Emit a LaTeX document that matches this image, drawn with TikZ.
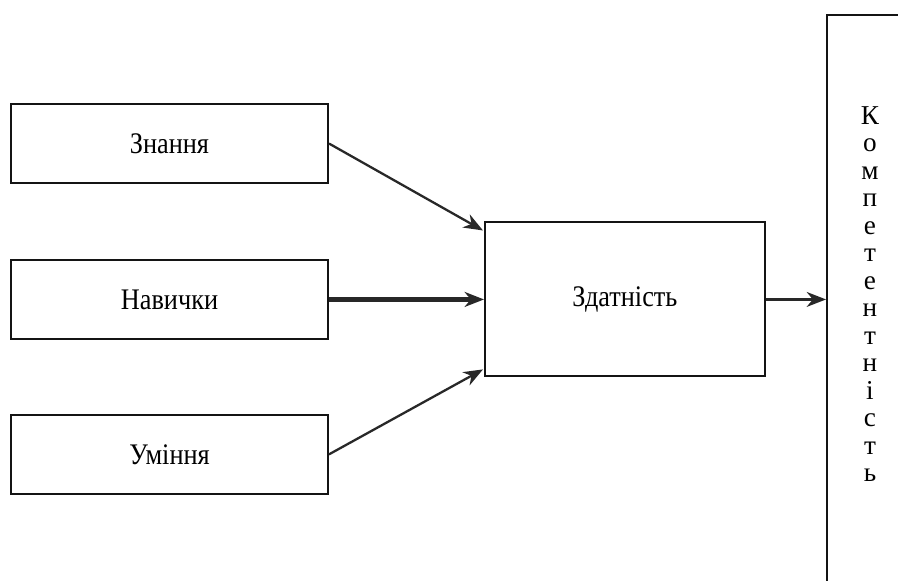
\documentclass[tikz,border=0pt]{standalone}
\usepackage{fontspec}
\setmainfont{Liberation Serif}[FakeStretch=0.88]
\newfontfamily\vertfont{Liberation Serif}
\usepackage{tikz}
\usetikzlibrary{positioning, arrows.meta, calc}
\definecolor{figK}{RGB}{20,20,20}
\definecolor{figA}{RGB}{40,40,40}
\tikzset{blok/.style={draw=figK, line width=1.1pt, minimum width=6.34cm, minimum height=1.58cm,
  inner sep=0pt, font=\fontsize{17}{20}\selectfont},
  strilka/.style={-{Stealth[length=11pt, width=8.5pt, inset=3.5pt]}, figA, line width=1.3pt}}

\begin{document}
\begin{tikzpicture}
  \useasboundingbox (0,0) rectangle (17.96,-11.6);
  \clip (0,0) rectangle (17.96,-11.6);
  \node[blok] (znan) at (3.39,-2.87) {Знання};
  \node[blok, below=1.5cm of znan] (navy) {Навички};
  \node[blok, below=1.48cm of navy] (umin) {Уміння};
  \node[blok, minimum width=5.6cm, minimum height=3.08cm, right=3.1cm of navy] (zdat) {Здатність};
  % high box on the right, cut off by the page
  \node[draw=figK, line width=1.1pt, minimum width=2.4cm, minimum height=12cm,
    anchor=north west] (komp) at (16.52,-0.28) {};
  \node[font=\vertfont\fontsize{15.5}{15.65}\selectfont, align=center, inner sep=0pt] (kompt)
    at (17.4,-5.88) {К\\о\\м\\п\\е\\т\\е\\н\\т\\н\\і\\с\\т\\ь};
  \draw[strilka] (znan.east) -- ($(zdat.north west)+(-0.02,-0.18)$);
  \draw[strilka, line width=2.4pt] (navy.east) -- (navy.east -| zdat.west);
  \draw[strilka] (umin.east) -- ($(zdat.south west)+(-0.02,0.16)$);
  \draw[strilka] (zdat.east) -- (zdat.east -| komp.west);
\end{tikzpicture}
\end{document}
